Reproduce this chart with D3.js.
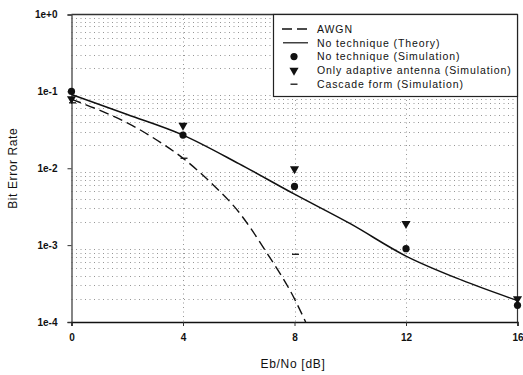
<!DOCTYPE html>
<html>
<head>
<meta charset="utf-8">
<script src="https://cdn.jsdelivr.net/npm/d3@7"></script>
<style>
  body { margin: 0; background: #fff; }
  text { font-family: "Liberation Sans", Arial, sans-serif; fill: #111; }
</style>
</head>
<body>
<div id="chart"></div>
<script>
// x values (Eb/No dB) and BER values
const awgnX   = [0, 1, 2, 3, 4, 5, 6, 7, 8, 8.4];
const awgnY   = [0.079, 0.057, 0.039, 0.024, 0.0135, 0.0065, 0.0027, 0.0008, 0.0002, 0.0001];
const theoryX = [0, 2, 4, 6, 8, 10, 12, 14, 16];
const theoryY = [0.091, 0.05, 0.027, 0.0115, 0.0046, 0.0019, 0.00072, 0.00035, 0.00019];
const simX    = [0, 4, 8, 12, 16];
const simY    = [0.1, 0.027, 0.0058, 0.0009, 0.000165];
const adaptX  = [0, 4, 8, 12, 16];
const adaptY  = [0.08, 0.036, 0.0098, 0.0019, 0.0002];
const cascX   = [0, 4, 8];
const cascY   = [0.071, 0.0135, 0.00076];

const xTicks = [0, 4, 8, 12, 16];
const yTicks = [1, 0.1, 0.01, 0.001, 0.0001];
const yTickLabels = ["1e+0", "1e-1", "1e-2", "1e-3", "1e-4"];
const legendNames = ["AWGN", "No technique (Theory)", "No technique (Simulation)",
  "Only adaptive antenna (Simulation)", "Cascade form (Simulation)"];

const cfg = { width: 523, height: 375, margin: { left: 71.5, right: 5.5, top: 14.5, bottom: 53 } };

const svg = d3.select("#chart").append("svg")
  .attr("width", cfg.width).attr("height", cfg.height);

const xScale = d3.scaleLinear([0, 16], [cfg.margin.left, cfg.width - cfg.margin.right]);
const yScale = d3.scaleLog([1e-4, 1], [cfg.height - cfg.margin.bottom, cfg.margin.top]);

const x0 = xScale(0), x1 = xScale(16), yT = yScale(1), yB = yScale(1e-4);

// gridlines: minor log ticks, vertical at inner x ticks
const minor = [];
for (let e = -4; e < 0; e++) for (let m = 2; m <= 9; m++) minor.push(m * Math.pow(10, e));
const grid = svg.append("g").attr("class", "gridlines")
  .style("stroke", "#8a8a8a").style("stroke-width", 0.9).style("stroke-dasharray", "1,3.5");
grid.selectAll("line.h").data(minor).join("line").attr("class", "h")
  .attr("x1", x0).attr("x2", x1)
  .attr("y1", d => Math.round(yScale(d)) + 0.5).attr("y2", d => Math.round(yScale(d)) + 0.5);
grid.selectAll("line.v").data([4, 8, 12]).join("line").attr("class", "v")
  .attr("x1", d => Math.round(xScale(d)) + 0.5).attr("x2", d => Math.round(xScale(d)) + 0.5)
  .attr("y1", yT).attr("y2", yB);

// frame
const frame = svg.append("g").style("stroke", "#333").style("fill", "none");
frame.append("line").attr("x1", x0).attr("x2", x1).attr("y1", yT).attr("y2", yT).style("stroke-width", 1.3);
frame.append("line").attr("x1", x1).attr("x2", x1).attr("y1", yT).attr("y2", yB).style("stroke-width", 1.2);

// axes
const yAxis = d3.axisLeft(yScale).tickValues(yTicks).tickSize(4)
  .tickFormat((d, i) => yTickLabels[i]);
const gy = svg.append("g").attr("transform", `translate(${x0},0)`).call(yAxis);
gy.select(".domain").attr("stroke", "#444").attr("stroke-width", 1.3);
gy.selectAll("text").style("font-size", "10px").style("font-weight", "bold").attr("x", -14);

const xAxis = d3.axisBottom(xScale).tickValues(xTicks).tickSize(4).tickFormat(d3.format("d"));
const gx = svg.append("g").attr("transform", `translate(0,${yB})`).call(xAxis);
gx.select(".domain").attr("stroke", "#111").attr("stroke-width", 1.6);
gx.selectAll("text").style("font-size", "10px").style("font-weight", "bold").attr("y", 12);
svg.selectAll(".tick line").attr("stroke", "#333");

svg.append("text").attr("transform", `translate(17,${(yT + yB) / 2}) rotate(-90)`)
  .attr("text-anchor", "middle").style("font-size", "12px").style("letter-spacing", "0.6px")
  .text("Bit Error Rate");
svg.append("text").attr("x", 293).attr("y", 368)
  .attr("text-anchor", "middle").style("font-size", "12px").style("letter-spacing", "0.7px")
  .text("Eb/No [dB]");

// lines
svg.append("clipPath").attr("id", "clip").append("rect")
  .attr("x", x0).attr("y", yT).attr("width", x1 - x0 + 2).attr("height", yB - yT);
const plot = svg.append("g").attr("clip-path", "url(#clip)");

const line = d3.line().x(d => xScale(d[0])).y(d => yScale(d[1])).curve(d3.curveMonotoneX);
plot.append("path").datum(awgnX.map((x, i) => [x, awgnY[i]]))
  .attr("d", line).attr("fill", "none").attr("stroke", "#111")
  .attr("stroke-width", 1.4).attr("stroke-dasharray", "10,5");
plot.append("path").datum(theoryX.map((x, i) => [x, theoryY[i]]))
  .attr("d", line).attr("fill", "none").attr("stroke", "#111").attr("stroke-width", 1.5);

// markers
const tri = d3.symbol().type(d3.symbolTriangle).size(36);
function marker(g, kind) {
  if (kind === "dot") g.append("circle").attr("r", 3.6).attr("fill", "#111");
  if (kind === "tri") g.append("path").attr("d", tri).attr("transform", "rotate(180)").attr("fill", "#111");
  if (kind === "dash") g.append("line").attr("x1", -3.5).attr("x2", 3.5).attr("stroke", "#111").attr("stroke-width", 1.3);
}
svg.selectAll("g.adapt").data(adaptX.map((x, i) => [x, adaptY[i]])).join("g").attr("class", "adapt")
  .attr("transform", d => `translate(${xScale(d[0])},${yScale(d[1])})`).each(function () { marker(d3.select(this), "tri"); });
svg.selectAll("g.sim").data(simX.map((x, i) => [x, simY[i]])).join("g").attr("class", "sim")
  .attr("transform", d => `translate(${xScale(d[0])},${yScale(d[1])})`).each(function () { marker(d3.select(this), "dot"); });
svg.selectAll("g.casc").data(cascX.map((x, i) => [x, cascY[i]])).join("g").attr("class", "casc")
  .attr("transform", d => `translate(${xScale(d[0]) + 1},${yScale(d[1])})`).each(function () { marker(d3.select(this), "dash"); });

// legend
const lg = svg.append("g");
lg.append("rect").attr("x", 273.5).attr("y", yT).attr("width", x1 - 273.5).attr("height", 82)
  .attr("fill", "#fff").attr("stroke", "#222").attr("stroke-width", 1.2);
const kinds = ["dashed", "solid", "dot", "tri", "dash"];
const rows = lg.selectAll("g.row").data(legendNames).join("g").attr("class", "row")
  .attr("transform", (d, i) => `translate(0,${29 + i * 13.8})`);
rows.append("text").attr("x", 317).attr("y", 3.8)
  .style("font-size", "10.5px").style("letter-spacing", "0.9px").text(d => d);
rows.each(function (d, i) {
  const g = d3.select(this);
  const k = kinds[i];
  if (k === "dashed") g.append("line").attr("x1", 282).attr("x2", 308).attr("stroke", "#111")
    .attr("stroke-width", 1.4).attr("stroke-dasharray", "10,5");
  else if (k === "solid") g.append("line").attr("x1", 283).attr("x2", 308).attr("stroke", "#111").attr("stroke-width", 1.2);
  else marker(g.append("g").attr("transform", "translate(294,0)"), k);
});
</script>
</body>
</html>
